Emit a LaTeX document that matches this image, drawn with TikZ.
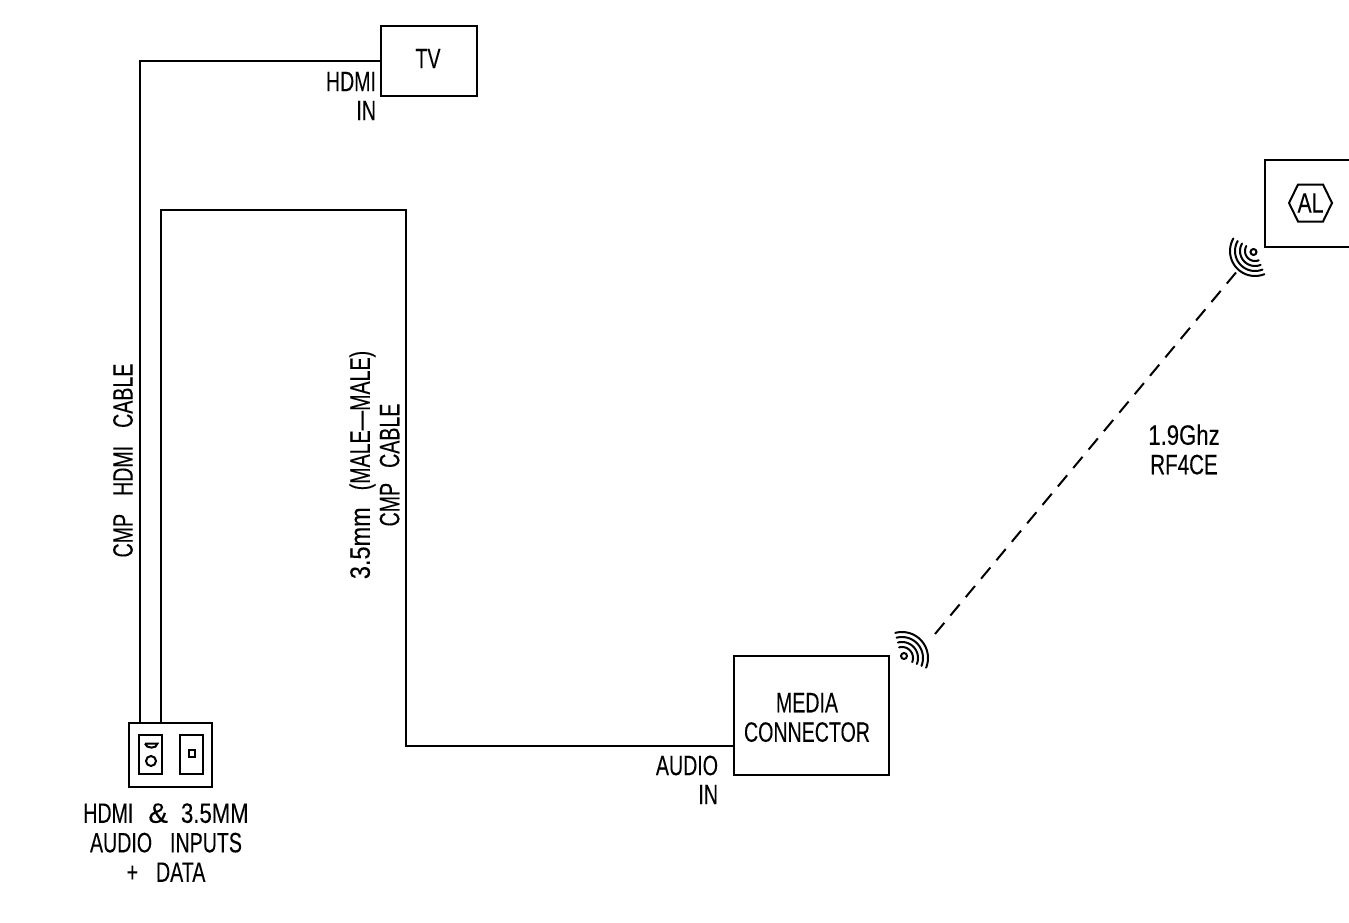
\documentclass[tikz,border=0pt]{standalone}
\usepackage{fontspec}
\setmainfont[FakeStretch=0.7,FakeBold=0.1]{Liberation Sans}
\tikzset{
 wire/.style={line width=2pt,line join=miter},
 boxnode/.style={draw,line width=2pt,inner sep=0pt,outer sep=0pt,anchor=north west},
 lbl/.style={inner sep=0pt,outer sep=0pt,font=\fontsize{28}{29.5}\selectfont,align=center},
 lblr/.style={lbl,align=right,anchor=east},
 radio/.style={line width=2pt,dash pattern=on 14.5pt off 9.5pt},
 arcline/.style={line width=2pt,line cap=round},
 thin2/.style={line width=2pt}
}
\newcommand{\wifi}[4]{% cx cy start end
 \foreach \r in {#3}{
  \draw[arcline] plot[smooth,samples=24,domain=#4] ({#1+\r*cos(\x)},{#2-\r*sin(\x)});
 }
}
\newcommand{\gp}[1]{\hspace{#1pt}}
\begin{document}
\begin{tikzpicture}[x=1pt,y=-1pt]
\useasboundingbox (0,0) rectangle (1349,923);
% nodes
\node[boxnode,minimum width=96pt,minimum height=70pt] (tv) at (381,26) {};
\node[lbl] (tvt) at (428,58.5) {TV};
\node[boxnode,minimum width=155pt,minimum height=119pt] (media) at (734,656) {};
\node[lbl] (mediat) at (807,717.5) {MEDIA\\CONNECTOR};
\node[boxnode,minimum width=100pt,minimum height=87pt] (al) at (1265,160) {};
\node[boxnode,minimum width=83pt,minimum height=64pt] (plate) at (129,723) {};
\node[boxnode,minimum width=23pt,minimum height=39pt] (hdmi) at (139,735) {};
\node[boxnode,minimum width=23pt,minimum height=39pt] (aud) at (180,735) {};
\node[boxnode,minimum width=6pt,minimum height=7pt] (jack) at (189,750) {};
\node[draw,circle,line width=2pt,minimum size=10pt,inner sep=0pt] (port) at (151,761) {};
\draw[thin2] (145,743.5) -- (157.5,743.5) .. controls (157,749) and (146,749) .. (145,743.5);
\draw[thin2] (1289,203) -- (1298,184.5) -- (1323,184.5) -- (1332,203) -- (1323,221.5) -- (1298,221.5) -- cycle;
\node[lbl] (alt) at (1310.5,203) {\scalebox{1.08}[1]{AL}};
% wires
\coordinate (a0) at (140,723);
\coordinate (a1) at (140,61);
\coordinate (b0) at (161,723);
\coordinate (b1) at (161,210);
\coordinate (b2) at (406,210);
\coordinate (b3) at (406,746);
\coordinate (r0) at (935,634);
\coordinate (r1) at (1236,272.5);
\draw[wire] (a0) -- (a1) -- (a1 -| tv.west);
\draw[wire] (b0) -- (b1) -- (b2) -- (b3) -- (b3 -| media.west);
\draw[radio] (r0) -- (r1);
% wifi
\wifi{902}{658}{26,21,16,11}{-22:105}
\draw[thin2] (904,656) circle (3pt);
\wifi{1255}{251}{25,20,15,10}{150:292}
\draw[thin2] (1253.5,252) circle (3pt);
% labels
\node[lblr] (l1) at (376,81.5) {HDMI};
\node[lblr] (l2) at (376,110.5) {IN};
\node[lblr] (l3) at (718,765.5) {AUDIO};
\node[lblr] (l4) at (718,794.5) {IN};
\node[lbl] (l5) at (1184,449.5) {\scalebox{1.13}[1]{1.9Ghz}\\\scalebox{1.05}[1]{RF4CE}};
\node[lbl] (l6) at (166,842.5) {HDMI\gp{15}\scalebox{1.5}[1]{\&}\gp{13}\scalebox{1.13}[1]{3.5MM}\\AUDIO\gp{18}INPUTS\\+\gp{18}DATA};
\node[lbl,rotate=90] (l7) at (123,460.5) {CMP\gp{18}HDMI\gp{18}CABLE};
\node[lbl,rotate=90] (l8) at (374.5,465) {\scalebox{1.2}[1]{3.5mm}\gp{17}(MALE---MALE)\\CMP\gp{15}CABLE};
\end{tikzpicture}
\end{document}
